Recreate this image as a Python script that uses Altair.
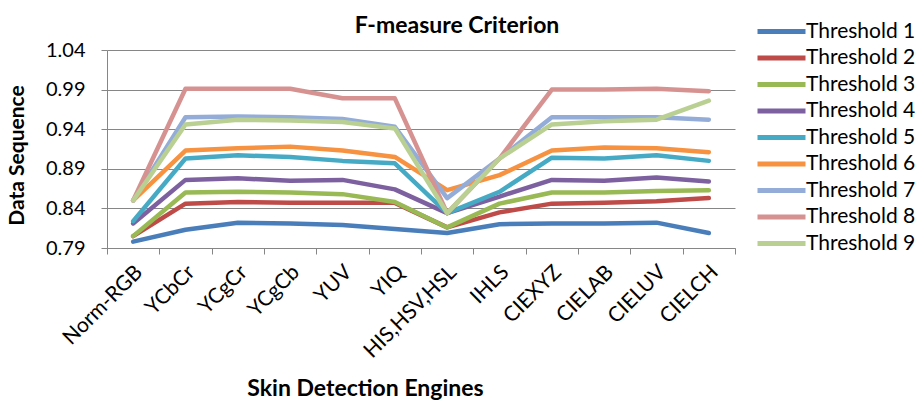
import altair as alt
import pandas as pd

categories = ["Norm-RGB", "YCbCr", "YCgCr", "YCgCb", "YUV", "YIQ", "HIS,HSV,HSL",
              "IHLS", "CIEXYZ", "CIELAB", "CIELUV", "CIELCH"]

series_names = ["Threshold 1", "Threshold 2", "Threshold 3", "Threshold 4", "Threshold 5",
                "Threshold 6", "Threshold 7", "Threshold 8", "Threshold 9"]

t1 = [0.798, 0.813, 0.822, 0.821, 0.819, 0.814, 0.809, 0.820, 0.821, 0.821, 0.822, 0.809]
t2 = [0.805, 0.846, 0.848, 0.847, 0.847, 0.847, 0.816, 0.835, 0.846, 0.847, 0.849, 0.853]
t3 = [0.805, 0.860, 0.861, 0.860, 0.858, 0.848, 0.816, 0.846, 0.860, 0.860, 0.862, 0.863]
t4 = [0.821, 0.876, 0.878, 0.875, 0.876, 0.864, 0.834, 0.855, 0.876, 0.875, 0.879, 0.874]
t5 = [0.824, 0.903, 0.907, 0.905, 0.900, 0.897, 0.834, 0.861, 0.904, 0.903, 0.907, 0.900]
t6 = [0.850, 0.913, 0.916, 0.918, 0.913, 0.905, 0.863, 0.882, 0.913, 0.917, 0.916, 0.911]
t7 = [0.850, 0.955, 0.956, 0.955, 0.953, 0.943, 0.853, 0.903, 0.955, 0.955, 0.955, 0.952]
t8 = [0.850, 0.991, 0.991, 0.991, 0.979, 0.979, 0.834, 0.903, 0.990, 0.990, 0.991, 0.988]
t9 = [0.850, 0.946, 0.952, 0.951, 0.949, 0.941, 0.834, 0.903, 0.946, 0.950, 0.952, 0.976]

y_ticks = [0.79, 0.84, 0.89, 0.94, 0.99, 1.04]

colors = ["#4A7EBB", "#BE4B48", "#98B954", "#7D60A0", "#46AAC5", "#F69240",
          "#93ACD8", "#D69290", "#B9D092"]

all_series = [t1, t2, t3, t4, t5, t6, t7, t8, t9]
rows = []
for name, vals in zip(series_names, all_series):
    for i, (c, v) in enumerate(zip(categories, vals)):
        rows.append({"engine": c, "value": v, "series": name, "order": i})
df = pd.DataFrame(rows)

FONT = "Lato"

chart = alt.Chart(df).mark_line(strokeWidth=4.5, strokeJoin="round", strokeCap="round").encode(
    x=alt.X("engine:N", sort=categories,
            scale=alt.Scale(paddingInner=0, paddingOuter=0),
            axis=alt.Axis(title="Skin Detection Engines", labelAngle=-45,
                          labelAlign="right", labelBaseline="top",
                          labelFontSize=21, labelFont=FONT, labelColor="#000000",
                          labelPadding=7, labelOffset=-2,
                          tickBand="extent", tickSize=6, tickColor="#868686",
                          domainColor="#868686", grid=False,
                          titleFont=FONT, titleFontSize=23, titleFontWeight="bold",
                          titleColor="#000000", titleX=258, titleY=147,
                          titleBaseline="alphabetic", titleAlign="center")),
    y=alt.Y("value:Q", scale=alt.Scale(domain=[0.79, 1.04], nice=False, zero=False),
            axis=alt.Axis(title="Data Sequence", values=y_ticks, format=".2f",
                          labelFontSize=20, labelFont=FONT, labelColor="#000000",
                          labelPadding=16, tickSize=6, tickColor="#868686",
                          domainColor="#868686", grid=True, gridColor="#868686",
                          gridWidth=1,
                          titleFont=FONT, titleFontSize=21, titleFontWeight="bold",
                          titleColor="#000000", titleX=-90, titleY=105,
                          titleAlign="center", titleBaseline="middle", titleAngle=-90)),
    color=alt.Color("series:N", sort=series_names,
                    scale=alt.Scale(domain=series_names, range=colors),
                    legend=alt.Legend(title=None, orient="none", legendX=662, legendY=-31,
                                      symbolType="M-2.4,0H2.4", symbolSize=400,
                                      symbolStrokeWidth=5, labelFontSize=21,
                                      labelFont=FONT, labelColor="#000000",
                                      labelOffset=12, rowPadding=3.5, padding=0)),
    order=alt.Order("order:Q"),
).properties(
    width=628, height=198,
    title=alt.TitleParams("F-measure Criterion", font=FONT, fontSize=23, fontWeight="bold",
                          color="#000000", anchor="middle", dx=36, offset=0, dy=37,
                          baseline="alphabetic"),
    autosize=alt.AutoSizeParams(type="none"),
    padding={"left": 107, "top": 50, "right": 180, "bottom": 152},
).configure_view(stroke=None)

chart.save("out.html", embed_options={"renderer": "svg", "actions": False})
